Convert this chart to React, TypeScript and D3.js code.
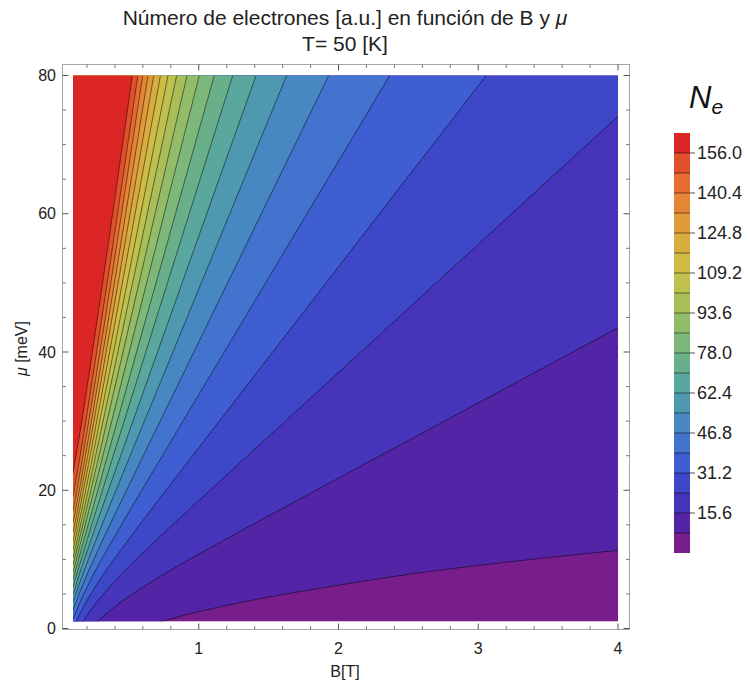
import React from "react";
import * as d3 from "d3";

const W = 748;
const H = 687;

// contour levels of N_e
const levels = [7.8, 15.6, 23.4, 31.2, 39.0, 46.8, 54.6, 62.4, 70.2, 78.0, 85.8, 93.6, 101.4, 109.2, 117.0, 124.8, 132.6, 140.4, 148.2, 156.0];
const legendMax = 163.8;
const legendLabels = ["15.6", "31.2", "46.8", "62.4", "78.0", "93.6", "109.2", "124.8", "140.4", "156.0"];

// axis ticks
const xTicks = [1, 2, 3, 4];
const xMinor = [0.2, 0.4, 0.6, 0.8, 1.2, 1.4, 1.6, 1.8, 2.2, 2.4, 2.6, 2.8, 3.2, 3.4, 3.6, 3.8];
const yTicks = [0, 20, 40, 60, 80];
const yMinor = [5, 10, 15, 25, 30, 35, 45, 50, 55, 65, 70, 75];

// contour crossings: B [T] of each contour at these μ rows [meV]
const muRows = [1, 2, 3, 4.5, 6, 8, 10, 13, 16, 20, 25, 30, 40, 55, 80];
const _ = null;
const contourB: (number | null)[][] = [
  [0.733, 0.913, 1.123, 1.49, 1.92, 2.56, 3.38, _, _, _, _, _, _, _, _],
  [0.277, 0.331, 0.39, 0.49, 0.602, 0.763, 0.934, 1.201, 1.473, 1.839, 2.298, 2.758, 3.677, _, _],
  [0.172, 0.204, 0.239, 0.297, 0.361, 0.454, 0.553, 0.707, 0.866, 1.081, 1.35, 1.62, 2.16, 2.969, _],
  [0.123, 0.146, 0.172, 0.213, 0.258, 0.323, 0.393, 0.502, 0.614, 0.765, 0.956, 1.147, 1.529, 2.102, 3.057],
  [_, 0.112, 0.133, 0.165, 0.201, 0.251, 0.305, 0.389, 0.475, 0.592, 0.74, 0.887, 1.183, 1.627, 2.366],
  [_, _, 0.106, 0.134, 0.163, 0.205, 0.249, 0.317, 0.388, 0.483, 0.603, 0.724, 0.965, 1.327, 1.93],
  [_, _, _, 0.111, 0.137, 0.173, 0.21, 0.268, 0.327, 0.408, 0.509, 0.611, 0.815, 1.12, 1.629],
  [_, _, _, _, 0.117, 0.148, 0.181, 0.232, 0.283, 0.353, 0.441, 0.529, 0.705, 0.969, 1.41],
  [_, _, _, _, _, 0.129, 0.159, 0.204, 0.249, 0.311, 0.388, 0.466, 0.621, 0.854, 1.243],
  [_, _, _, _, _, 0.113, 0.14, 0.181, 0.223, 0.278, 0.347, 0.417, 0.555, 0.764, 1.111],
  [_, _, _, _, _, _, 0.124, 0.162, 0.2, 0.251, 0.314, 0.377, 0.502, 0.69, 1.004],
  [_, _, _, _, _, _, 0.11, 0.146, 0.182, 0.228, 0.286, 0.343, 0.458, 0.63, 0.916],
  [_, _, _, _, _, _, _, 0.132, 0.165, 0.209, 0.262, 0.315, 0.421, 0.579, 0.842],
  [_, _, _, _, _, _, _, 0.118, 0.15, 0.191, 0.242, 0.291, 0.39, 0.536, 0.78],
  [_, _, _, _, _, _, _, 0.105, 0.136, 0.175, 0.223, 0.27, 0.362, 0.499, 0.726],
  [_, _, _, _, _, _, _, _, 0.122, 0.16, 0.206, 0.25, 0.337, 0.466, 0.678],
  [_, _, _, _, _, _, _, _, 0.107, 0.145, 0.189, 0.232, 0.315, 0.437, 0.637],
  [_, _, _, _, _, _, _, _, _, 0.128, 0.171, 0.213, 0.293, 0.409, 0.599],
  [_, _, _, _, _, _, _, _, _, 0.108, 0.151, 0.192, 0.269, 0.382, 0.564],
  [_, _, _, _, _, _, _, _, _, _, 0.122, 0.163, 0.239, 0.348, 0.525],
];
// μ where a contour meets the left edge (B = 0.1) or the right edge (B = 4)
const muLeft = [_, _, _, _, 1.35, 2.63, 3.81, 4.93, 6.01, 7.06, 8.1, 9.16, 10.23, 11.35, 12.53, 13.8, 15.24, 16.93, 19.09, 22.45];
const muRight = [11.3, 43.51, 74.09, _, _, _, _, _, _, _, _, _, _, _, _, _, _, _, _, _];

// band colours, lowest band first
const bandColors = [
  "#781e8c", "#5424a6", "#4634bb", "#3f47c9", "#3e5ed1", "#4173cf",
  "#4788c2", "#4f99b0", "#5aa79d", "#69b08a", "#7db87a", "#93bc68",
  "#a9be59", "#bec14e", "#cfbb46", "#d9ac40", "#e19a3b", "#e68536",
  "#e66c31", "#e2502b", "#dc2626",
];

const FONT = "'Liberation Sans', Arial, Helvetica, sans-serif";
const B_MIN = 0.1, B_MAX = 4, MU_MIN = 1, MU_MAX = 80;

export default function App() {
  const x = d3.scaleLinear().domain([B_MIN, B_MAX]).range([73, 618]);
  const y = d3.scaleLinear().domain([0, 80]).range([628.5, 75.5]);
  const leg = d3.scaleLinear().domain([0, legendMax]).range([553, 133]);

  const plotX0 = x(B_MIN), plotX1 = x(B_MAX), plotY0 = y(MU_MAX), plotY1 = y(MU_MIN);
  const frame = { x0: 62.5, x1: 629.5, y0: 64.5, y1: 629.5 };

  const line = d3.line<[number, number]>()
    .x((d) => x(d[0]))
    .y((d) => y(d[1]))
    .curve(d3.curveCatmullRom.alpha(0.5));

  const contours = levels.map((lev, k) => {
    const pts: [number, number][] = [];
    const mL = muLeft[k], mR = muRight[k];
    if (mL != null) pts.push([B_MIN, mL]);
    contourB[k].forEach((b, i) => { if (b != null) pts.push([b, muRows[i]]); });
    if (mR != null) pts.push([B_MAX, mR]);
    const stroke = line(pts) || "";
    const corners: [number, number][] = [];
    if (mR != null) corners.push([B_MAX, MU_MAX]);
    corners.push([B_MIN, MU_MAX]);
    if (mL == null) corners.push([B_MIN, MU_MIN]);
    const fill = stroke + corners.map((c) => `L${x(c[0])},${y(c[1])}`).join("") + "Z";
    return { lev, stroke, fill };
  });

  const tickCol = "#555";
  const frameCol = "#a6a6a6";
  const textCol = "#222";

  return (
    <svg width={W} height={H} style={{ position: "absolute", left: 0, top: 0, background: "#fff" }} fontFamily={FONT}>
      <defs>
        <clipPath id="plotClip">
          <rect x={plotX0} y={plotY0} width={plotX1 - plotX0} height={plotY1 - plotY0} />
        </clipPath>
      </defs>

      {/* title */}
      <text x={345} y={25} textAnchor="middle" fontSize={21} fill={textCol}>
        Número de electrones [a.u.] en función de B y <tspan fontStyle="italic">μ</tspan>
      </text>
      <text x={345} y={51} textAnchor="middle" fontSize={21} fill={textCol}>T= 50 [K]</text>

      {/* contour plot */}
      <g clipPath="url(#plotClip)">
        <rect x={plotX0} y={plotY0} width={plotX1 - plotX0} height={plotY1 - plotY0} fill={bandColors[0]} />
        {contours.map((c, k) => (
          <path key={"f" + k} d={c.fill} fill={bandColors[k + 1]} />
        ))}
        {contours.map((c, k) => (
          <path key={"l" + k} d={c.stroke} fill="none" stroke="rgba(0,0,0,0.55)" strokeWidth={0.9} />
        ))}
      </g>

      {/* frame */}
      <rect x={frame.x0} y={frame.y0} width={frame.x1 - frame.x0} height={frame.y1 - frame.y0} fill="none" stroke={frameCol} strokeWidth={1} />

      {/* x ticks */}
      {xTicks.map((t) => (
        <g key={"xt" + t}>
          <line x1={x(t)} x2={x(t)} y1={frame.y1} y2={frame.y1 - 6} stroke={tickCol} />
          <line x1={x(t)} x2={x(t)} y1={frame.y0} y2={frame.y0 + 6} stroke={tickCol} />
          <text x={x(t)} y={654} textAnchor="middle" fontSize={16} fill={textCol}>{t}</text>
        </g>
      ))}
      {xMinor.map((t) => (
        <g key={"xm" + t}>
          <line x1={x(t)} x2={x(t)} y1={frame.y1} y2={frame.y1 - 3.5} stroke={tickCol} strokeWidth={0.8} />
          <line x1={x(t)} x2={x(t)} y1={frame.y0} y2={frame.y0 + 3.5} stroke={tickCol} strokeWidth={0.8} />
        </g>
      ))}

      {/* y ticks */}
      {yTicks.map((t) => (
        <g key={"yt" + t}>
          <line x1={frame.x0} x2={frame.x0 + 6} y1={y(t)} y2={y(t)} stroke={tickCol} />
          <line x1={frame.x1} x2={frame.x1 - 6} y1={y(t)} y2={y(t)} stroke={tickCol} />
          <text x={56} y={y(t)} dy="0.35em" textAnchor="end" fontSize={16} fill={textCol}>{t}</text>
        </g>
      ))}
      {yMinor.map((t) => (
        <g key={"ym" + t}>
          <line x1={frame.x0} x2={frame.x0 + 3.5} y1={y(t)} y2={y(t)} stroke={tickCol} strokeWidth={0.8} />
          <line x1={frame.x1} x2={frame.x1 - 3.5} y1={y(t)} y2={y(t)} stroke={tickCol} strokeWidth={0.8} />
        </g>
      ))}

      {/* axis labels */}
      <text x={345} y={677} textAnchor="middle" fontSize={16} fill={textCol}>B[T]</text>
      <text transform={`translate(27,${(plotY0 + plotY1) / 2}) rotate(-90)`} textAnchor="middle" fontSize={16} fill={textCol}>
        <tspan fontStyle="italic">μ</tspan> [meV]
      </text>

      {/* legend */}
      <text x={689} y={108} fontSize={31} fontStyle="italic" fill="#111">
        N<tspan fontSize={21} dy={6}>e</tspan>
      </text>
      {bandColors.map((c, k) => {
        const lo = k === 0 ? 0 : levels[k - 1];
        const hi = k < levels.length ? levels[k] : legendMax;
        return <rect key={"lb" + k} x={674} y={leg(hi)} width={16} height={leg(lo) - leg(hi)} fill={c} />;
      })}
      {levels.map((v) => (
        <line key={"ls" + v} x1={674} x2={690} y1={leg(v)} y2={leg(v)} stroke="rgba(0,0,0,0.5)" strokeWidth={1} />
      ))}
      {legendLabels.map((s) => (
        <g key={"ll" + s}>
          <line x1={690} x2={695} y1={leg(+s)} y2={leg(+s)} stroke={tickCol} />
          <text x={697} y={leg(+s)} dy="0.35em" fontSize={18} fill={textCol}>{s}</text>
        </g>
      ))}
    </svg>
  );
}
